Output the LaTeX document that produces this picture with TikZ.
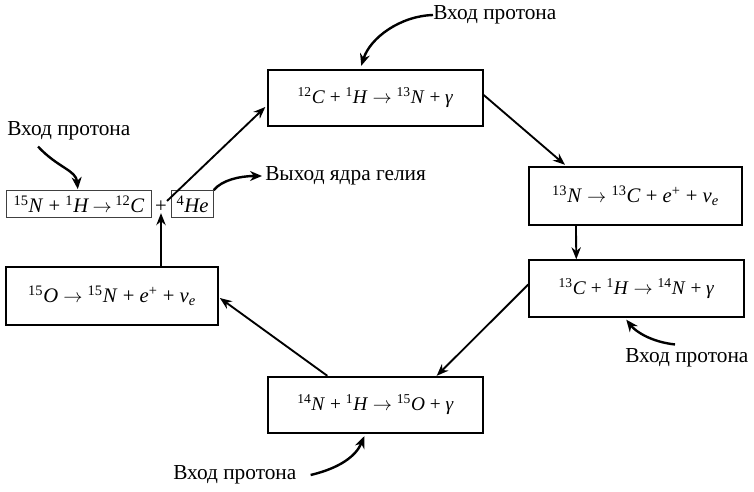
\documentclass[tikz,border=0pt]{standalone}
\usepackage{fontspec}
\setmainfont{Liberation Serif}
\usetikzlibrary{arrows.meta,calc}
\newcommand\iso[2]{\textsuperscript{#1}\textit{#2}}
\newcommand\ra{\ $\rightarrow$\ }
\begin{document}
\begin{tikzpicture}[x=0.75pt,y=-0.75pt,
  bigbox/.style={draw,line width=1.3pt,inner sep=0pt,font=\fontsize{14.5}{16}\selectfont},
  smallbox/.style={draw=black!75,line width=0.8pt,inner sep=0pt,minimum height=20pt,font=\fontsize{15.5}{17}\selectfont},
  lbl/.style={font=\fontsize{16}{18}\selectfont,inner sep=0pt},
  arr/.style={line width=1.4pt,-{Stealth[length=9pt,width=7pt]}},
  curv/.style={line width=1.8pt,-{Stealth[length=9pt,width=7.5pt]}}]
\useasboundingbox (0,0) rectangle (754,492);
\node[bigbox,minimum width=161pt,minimum height=42.5pt] (A) at (375.5,98) {\iso{12}{C} + \iso{1}{H}\ra\iso{13}{N} + \textit{γ}};
\node[bigbox,minimum width=160pt,minimum height=44pt,font=\fontsize{15.5}{17}\selectfont] (B) at (635.5,196) {\iso{13}{N}\ra\iso{13}{C} + \textit{e}\textsuperscript{+} + \textit{ν}\textsubscript{\textit{e}}};
\node[bigbox,minimum width=161pt,minimum height=42.5pt] (C) at (636.5,288.5) {\iso{13}{C} + \iso{1}{H}\ra\iso{14}{N} + \textit{γ}};
\node[bigbox,minimum width=161pt,minimum height=42.5pt] (D) at (375.5,405) {\iso{14}{N} + \iso{1}{H}\ra\iso{15}{O} + \textit{γ}};
\node[bigbox,minimum width=159pt,minimum height=44pt,font=\fontsize{15.5}{17}\selectfont] (E) at (112,296) {\iso{15}{O}\ra\iso{15}{N} + \textit{e}\textsuperscript{+} + \textit{ν}\textsubscript{\textit{e}}};
\node[smallbox,minimum width=109pt] (F) at (79,204) {\iso{15}{N} + \iso{1}{H}\,$\rightarrow$\,\iso{12}{C}};
\node[inner sep=0pt,font=\fontsize{15.5}{17}\selectfont] (p) at (161,207) {+};
\node[smallbox,minimum width=31pt] (G) at (192.5,204) {\iso{4}{He}};
\node[lbl,anchor=west] (L1) at (433,15) {Вход протона};
\node[lbl,anchor=west] (L2) at (7,131) {Вход протона};
\node[lbl,anchor=west] (L3) at (265,176) {Выход ядра гелия};
\node[lbl,anchor=west] (L4) at (625,358) {Вход протона};
\node[lbl,anchor=west] (L5) at (173,475) {Вход протона};
% cycle arrows
\draw[arr] (p.north east) -- ($(A.west)+(-2,9)$);
\draw[arr] ($(A.east)+(0,-3)$) -- ($(B.north west)+(37,-1)$);
\draw[arr] ($(B.south west)+(48,0)$) -- ($(C.north west)+(48,0)$);
\draw[arr] ($(C.west)+(0,-4)$) -- ($(D.north east)+(-47,0)$);
\draw[arr] ($(D.north west)+(60,0)$) -- ($(E.east)+(1,2)$);
\draw[arr] (p.south |- E.north) -- (p.south);
% proton / helium arrows
\draw[curv] (L1.west) .. controls (400,16) and (370,38) .. ($(A.north west)+(94,-3)$);
\draw[curv] ($(L2.south west)+(31,6)$) .. controls (58,168) and (76,170) .. ($(F.north west)+(72,-1)$);
\draw[curv] (G.north east) .. controls (222,180) and (240,176) .. ($(L3.west)+(-3,0)$);
\draw[curv] ($(L4.north west)+(50,-4)$) .. controls (652,342) and (636,332) .. ($(C.south west)+(98,2)$);
\draw[curv] ($(L5.east)+(14,0)$) .. controls (340,468) and (356,456) .. ($(D.south west)+(97,2)$);
\end{tikzpicture}
\end{document}
